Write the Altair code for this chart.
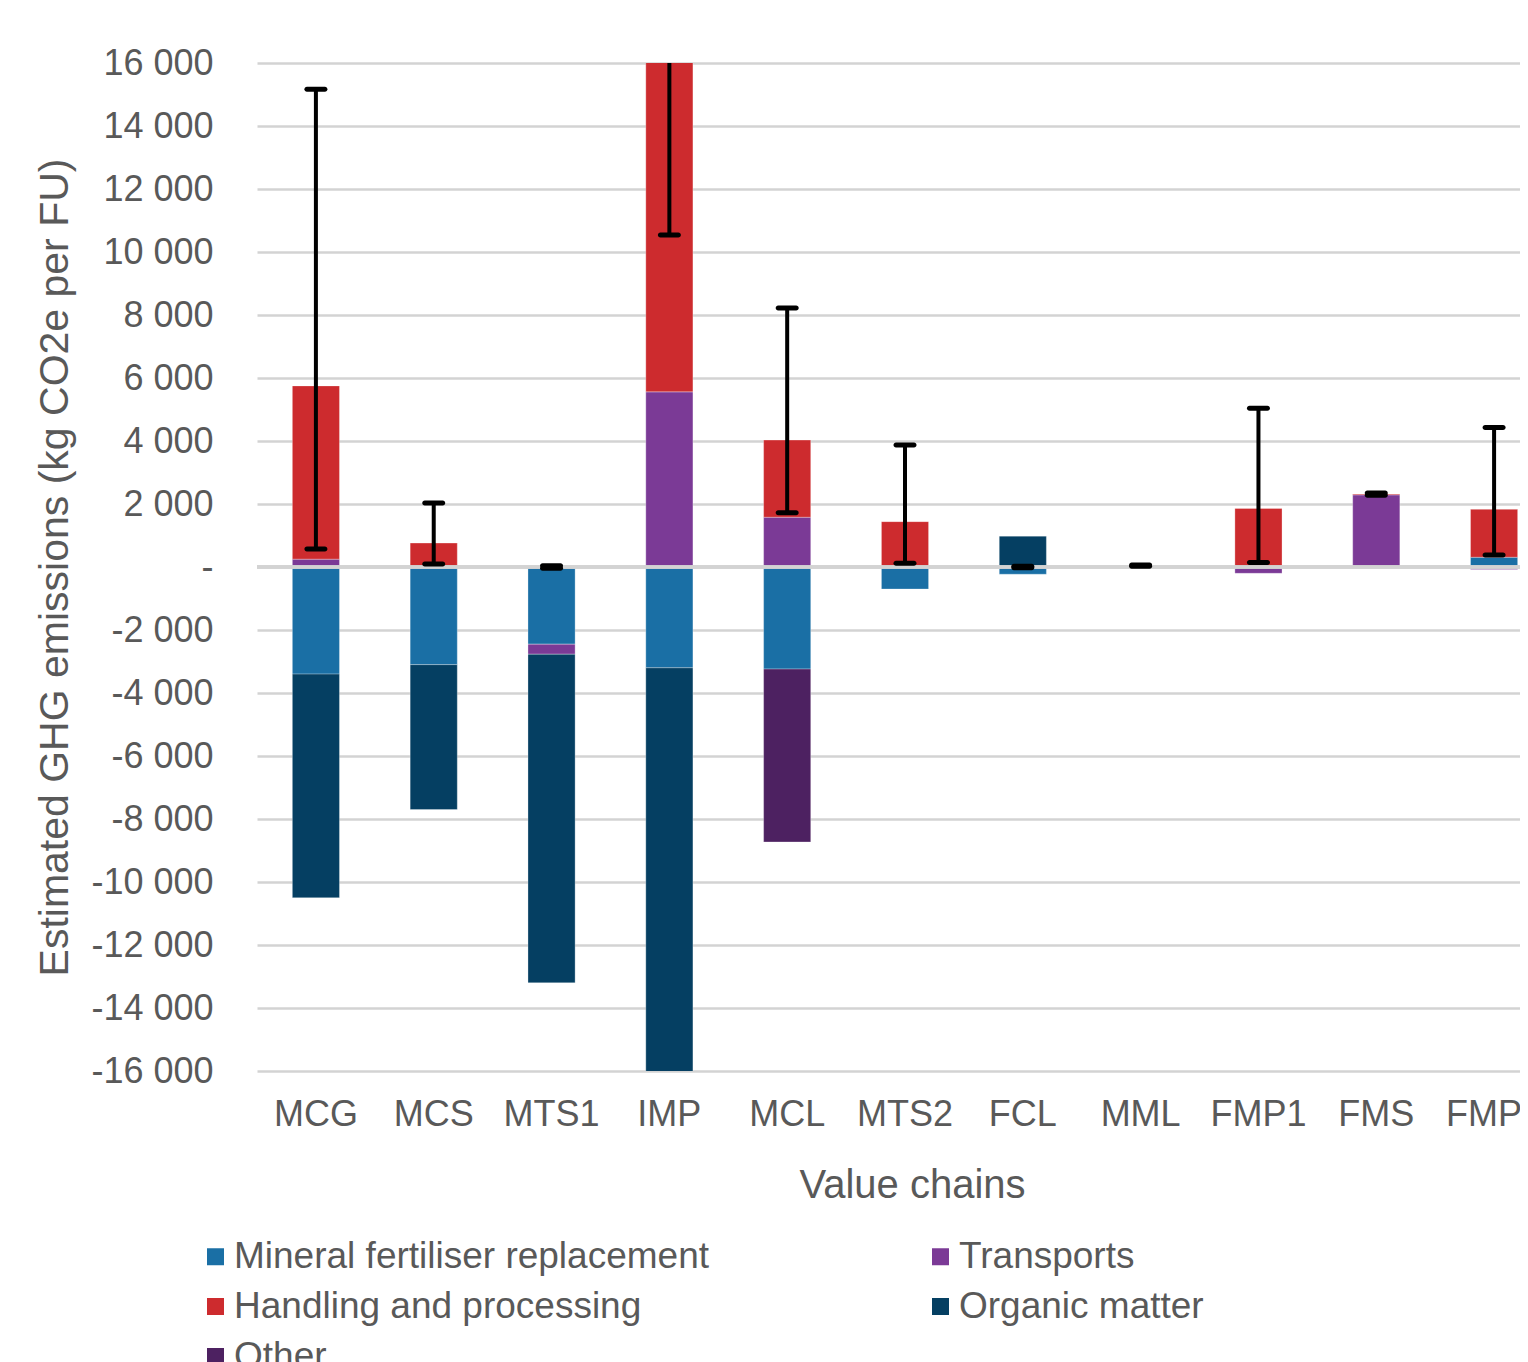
import altair as alt
import pandas as pd

chains = ["MCG", "MCS", "MTS1", "IMP", "MCL", "MTS2", "FCL", "MML", "FMP1", "FMS", "FMP2"]
categories = ["Mineral fertiliser replacement", "Transports", "Handling and processing",
              "Organic matter", "Other"]
colors = ["#1A6FA5", "#7B3A96", "#CD2B2E", "#053F62", "#4D2161"]
# legend order (column-major fill gives the reference's row layout)
legend_order = ["Mineral fertiliser replacement", "Handling and processing", "Other",
                "Transports", "Organic matter"]
legend_colors = ["#1A6FA5", "#CD2B2E", "#4D2161", "#7B3A96", "#053F62"]

mineral = [-3400, -3100, -2450, -3200, -3240, -700, -230, 0, 0, 0, 310]
transports = [250, 0, -320, 5560, 1580, 0, 0, 0, -200, 2290, -80]
handling = [5500, 760, 0, 14000, 2450, 1440, 0, 0, 1860, 30, 1520]
organic = [-7100, -4600, -10430, -14000, 0, 0, 980, 0, 0, 0, 0]
other = [0, 0, 0, 0, -5490, 0, 0, 0, 0, 0, 0]
err_low = [570, 95, -40, 10540, 1720, 120, -20, 20, 140, 2280, 380]
err_high = [15170, 2030, 40, 22000, 8220, 3870, 20, 60, 5040, 2350, 4430]

series = [mineral, transports, handling, organic, other]
rows = []
for i, ch in enumerate(chains):
    for k, (cat, vals) in enumerate(zip(categories, series)):
        if vals[i] != 0:
            rows.append({"chain": ch, "category": cat, "value": vals[i], "order": k})
df = pd.DataFrame(rows)
err = pd.DataFrame({"chain": chains, "low": err_low, "high": err_high})

FONT = "Liberation Sans"
GREY = "#595959"

xscale = alt.Scale(domain=chains, range=[0, 1296], paddingInner=0.6, paddingOuter=0.3)
yscale = alt.Scale(domain=[-16000, 16000], nice=False, zero=False)

xaxis = alt.Axis(title="Value chains", labelFontSize=36, labelFont=FONT, labelColor=GREY,
                 labelAngle=0, domain=False, ticks=False, tickSize=0, grid=False,
                 labelPadding=26, titleFont=FONT, titleFontSize=40, titleFontWeight="normal",
                 titleColor=GREY, titleX=655, titleY=114, titleBaseline="middle",
                 titleAlign="center")
yaxis = alt.Axis(title="Estimated GHG emissions (kg CO2e per FU)",
                 values=list(range(-16000, 16001, 2000)),
                 labelExpr="datum.value == 0 ? '-' : (datum.value < 0 ? '-' : '') + replace(format(abs(datum.value), ','), ',', ' ')",
                 labelFontSize=36, labelFont=FONT, labelColor=GREY, labelPadding=44,
                 domain=False, ticks=False, tickSize=0, grid=True, gridColor="#D3D3D3",
                 gridWidth=2.5, titleFont=FONT, titleFontSize=41, titleFontWeight="normal",
                 titleColor=GREY, titleAngle=270, titleX=-202, titleY=504,
                 titleAlign="center", titleBaseline="middle")

bars = alt.Chart(df).mark_bar(clip=True, stroke="white", strokeWidth=0.6, strokeOpacity=0.5).encode(
    x=alt.X("chain:N", scale=xscale, axis=xaxis, sort=chains),
    y=alt.Y("value:Q", scale=yscale, axis=yaxis, stack="zero"),
    color=alt.Color("category:N",
                    scale=alt.Scale(domain=legend_order, range=legend_colors),
                    legend=alt.Legend(orient="none", legendX=-60, legendY=1175, title=None,
                                      columns=2, symbolType="square", symbolSize=289,
                                      symbolStrokeWidth=0, labelFontSize=37, labelFont=FONT,
                                      labelColor=GREY, columnPadding=212, rowPadding=12,
                                      labelOffset=0, labelLimit=700)),
    order=alt.Order("order:Q", sort="ascending"),
)

zero = alt.Chart(err).mark_rule(color="#D3D3D3", strokeWidth=2.5).encode(
    y=alt.datum(0, scale=yscale)
)

whisk = alt.Chart(err).mark_rule(color="black", strokeWidth=4, clip=True).encode(
    x=alt.X("chain:N", scale=xscale, sort=chains),
    y=alt.Y("low:Q", scale=yscale),
    y2="high:Q",
)
cap_lo = alt.Chart(err).mark_tick(color="black", thickness=5, size=23, cornerRadius=2.5,
                                  clip=True, opacity=1).encode(
    x=alt.X("chain:N", scale=xscale, sort=chains),
    y=alt.Y("low:Q", scale=yscale),
)
cap_hi = alt.Chart(err).mark_tick(color="black", thickness=5, size=23, cornerRadius=2.5,
                                  clip=True, opacity=1).encode(
    x=alt.X("chain:N", scale=xscale, sort=chains),
    y=alt.Y("high:Q", scale=yscale),
)

chart = alt.layer(bars, zero, whisk, cap_lo, cap_hi).properties(
    width=1263, height=1008,
    autosize=alt.AutoSizeParams(type="none"),
    padding={"left": 249, "top": 55, "right": 0, "bottom": 291},
    background="white",
).configure_view(stroke=None)

chart.save("out.html", embed_options={"renderer": "svg", "actions": False})
